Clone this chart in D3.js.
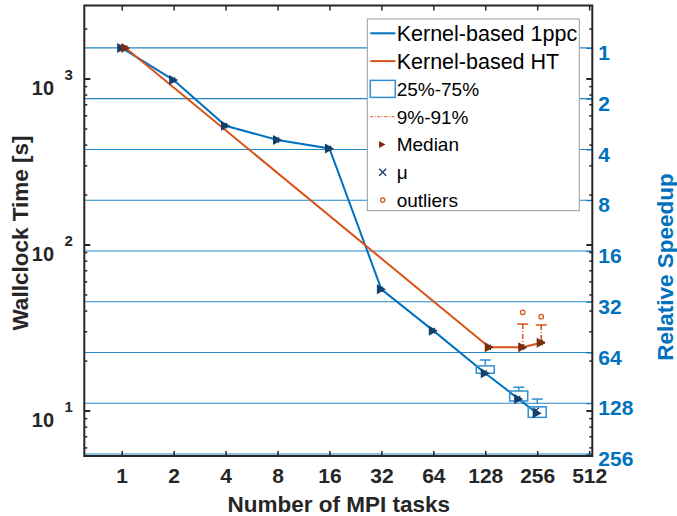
<!DOCTYPE html>
<html>
<head>
<meta charset="utf-8">
<script src="https://cdn.jsdelivr.net/npm/d3@7"></script>
<style>
  body { margin: 0; background: #fff; }
  svg { display: block; font-family: "Liberation Sans", Arial, sans-serif; }
</style>
</head>
<body>
<div id="chart"></div>
<script>
/*
  Strong scaling: wallclock time vs number of MPI tasks
*/

// Kernel-based 1ppc
var tasks1ppc = [1, 2, 4, 8, 16, 32, 64, 128, 200, 256];
var median1ppc = [1538, 986, 523, 429, 382, 54.1, 30.5, 16.9, 11.8, 9.7];
var mean1ppc = [1538, 986, 523, 429, 382, 54.1, 30.5, 17.0, 11.9, 10.1];
var boxTasks1ppc = [128, 200, 256];
var q25_1ppc = [16.9, 11.5, 9.16];
var q75_1ppc = [18.7, 13.2, 10.6];
var p09_1ppc = [16.8, 11.4, 9.1];
var p91_1ppc = [20.3, 13.9, 11.8];

// Kernel-based HT
var tasksHT = [1, 128, 200, 256];
var medianHT = [1538, 24.2, 24.2, 25.8];
var meanHT = [1538, 24.2, 24.3, 25.9];
var boxTasksHT = [200, 256];
var q25HT = [24.0, 25.6];
var q75HT = [24.4, 26.0];
var p09HT = [24.0, 25.6];
var p91HT = [33.4, 33.0];
var outlierTasksHT = [200, 256];
var outlierHT = [39.3, 37.0];

// axes
var xTicks = [1, 2, 4, 8, 16, 32, 64, 128, 256, 512];
var yTicks = [10, 100, 1000];
var speedupTicks = [1, 2, 4, 8, 16, 32, 64, 128, 256];

var legendLabels = ["Kernel-based 1ppc", "Kernel-based HT", "25%-75%", "9%-91%", "Median", "\u03bc", "outliers"];

var blue = "#0072BD", orange = "#D95319", ink = "#262626",
    darkBlue = "#123f6b", darkBrown = "#7a2c0c";

var margin = {top: 5.5, right: 84.7, bottom: 60, left: 84.3};
var width = 677 - margin.left - margin.right,
    height = 516 - margin.top - margin.bottom;

var svg = d3.select("#chart").append("svg")
    .attr("width", 677)
    .attr("height", 516)
  .append("g")
    .attr("transform", "translate(" + margin.left + "," + margin.top + ")");

var x = d3.scaleLog().base(2).domain([0.607, 534]).range([0, width]);
var y = d3.scaleLog().domain([5.36, 2772]).range([height, 0]);
var ySpeed = d3.scaleLog().base(2).domain([0.56, 263]).range([0, height]);

var dodgeHT = 4; // px shift of the HT series

//Gridlines from the speedup axis
svg.selectAll(".grid")
  .data(speedupTicks)
  .enter().append("line")
  .attr("class", "grid")
  .attr("x1", 0).attr("x2", width)
  .attr("y1", function(d){ return ySpeed(d); })
  .attr("y2", function(d){ return ySpeed(d); })
  .style("stroke", blue)
  .style("stroke-width", 1.2)
  .style("opacity", 0.85);

//Lines
var line1ppc = d3.line()
  .x(function(d, i){ return x(tasks1ppc[i]); })
  .y(function(d){ return y(d); });
var lineHT = d3.line()
  .x(function(d, i){ return x(tasksHT[i]) + dodgeHT; })
  .y(function(d){ return y(d); });

svg.append("path")
  .datum(median1ppc)
  .attr("d", line1ppc)
  .style("fill", "none")
  .style("stroke", blue)
  .style("stroke-width", 2);

svg.append("path")
  .datum(medianHT)
  .attr("d", lineHT)
  .style("fill", "none")
  .style("stroke", orange)
  .style("stroke-width", 2);

//Box plots
function drawBoxes(bx, q25, q75, p09, p91, color, dx, boxW) {
  var g = svg.append("g");
  bx.forEach(function(t, i){
    var cx = x(t) + dx;
    // whiskers
    g.append("line")
      .attr("x1", cx).attr("x2", cx)
      .attr("y1", y(p91[i])).attr("y2", y(q75[i]))
      .style("stroke", color).style("stroke-width", 1.5)
      .style("stroke-dasharray", "5,2,1,2");
    g.append("line")
      .attr("x1", cx).attr("x2", cx)
      .attr("y1", y(q25[i])).attr("y2", y(p09[i]))
      .style("stroke", color).style("stroke-width", 1.5)
      .style("stroke-dasharray", "5,2,1,2");
    g.append("line")
      .attr("x1", cx - 5.5).attr("x2", cx + 5.5)
      .attr("y1", y(p91[i])).attr("y2", y(p91[i]))
      .style("stroke", color).style("stroke-width", 1.5);
    // box
    g.append("rect")
      .attr("x", cx - boxW / 2)
      .attr("y", y(q75[i]))
      .attr("width", boxW)
      .attr("height", y(q25[i]) - y(q75[i]))
      .style("fill", "none")
      .style("stroke", color)
      .style("stroke-width", 1.5);
  });
}
drawBoxes(boxTasks1ppc, q25_1ppc, q75_1ppc, p09_1ppc, p91_1ppc, "#2f8fd0", 0, 18);
drawBoxes(boxTasksHT, q25HT, q75HT, p09HT, p91HT, orange, dodgeHT, 6);

//Outliers
svg.selectAll(".outlier")
  .data(outlierHT)
  .enter().append("circle")
  .attr("class", "outlier")
  .attr("cx", function(d, i){ return x(outlierTasksHT[i]) + dodgeHT; })
  .attr("cy", function(d){ return y(d); })
  .attr("r", 2.3)
  .style("fill", "none")
  .style("stroke", orange)
  .style("stroke-width", 1.2);

//Mean markers (under the median markers)
var cross = "M-2.6,-2.6L2.6,2.6M-2.6,2.6L2.6,-2.6";
svg.selectAll(".mean1")
  .data(mean1ppc)
  .enter().append("path")
  .attr("class", "mean1")
  .attr("d", cross)
  .attr("transform", function(d, i){ return "translate(" + (x(tasks1ppc[i]) - 1) + "," + y(d) + ")"; })
  .style("stroke", darkBlue)
  .style("stroke-width", 1.2);

svg.selectAll(".meanHT")
  .data(meanHT)
  .enter().append("path")
  .attr("class", "meanHT")
  .attr("d", cross)
  .attr("transform", function(d, i){ return "translate(" + (x(tasksHT[i]) + dodgeHT - 1) + "," + y(d) + ")"; })
  .style("stroke", darkBlue)
  .style("stroke-width", 1.2);

//Median markers
var triangle = "M-4.5,-5L4.5,0L-4.5,5Z";
svg.selectAll(".med1")
  .data(median1ppc)
  .enter().append("path")
  .attr("class", "med1")
  .attr("d", triangle)
  .attr("transform", function(d, i){ return "translate(" + x(tasks1ppc[i]) + "," + y(d) + ")"; })
  .style("fill", darkBlue);

svg.selectAll(".medHT")
  .data(medianHT)
  .enter().append("path")
  .attr("class", "medHT")
  .attr("d", triangle)
  .attr("transform", function(d, i){ return "translate(" + (x(tasksHT[i]) + dodgeHT) + "," + y(d) + ")"; })
  .style("fill", darkBrown);

//Legend
var lg = svg.append("g")
  .attr("transform", "translate(" + (367.3 - margin.left) + "," + (19 - margin.top) + ")");
lg.append("rect")
  .attr("width", 212).attr("height", 191.7)
  .style("fill", "#fff")
  .style("stroke", "#9a9a9a")
  .style("stroke-width", 1);

var rowY = function(i){ return 14.3 + i * 27.8; };
lg.selectAll(".lgtext")
  .data(legendLabels)
  .enter().append("text")
  .attr("x", 29.4)
  .attr("y", function(d, i){ return rowY(i); })
  .attr("dy", "0.36em")
  .style("font-size", function(d, i){ return i < 2 ? "21.5px" : "19px"; })
  .style("fill", "#000")
  .text(function(d){ return d; });

lg.append("line").attr("x1", 3).attr("x2", 28).attr("y1", rowY(0)).attr("y2", rowY(0))
  .style("stroke", blue).style("stroke-width", 2);
lg.append("line").attr("x1", 3).attr("x2", 28).attr("y1", rowY(1)).attr("y2", rowY(1))
  .style("stroke", orange).style("stroke-width", 2);
lg.append("rect").attr("x", 3).attr("y", rowY(2) - 8.5).attr("width", 25).attr("height", 17)
  .style("fill", "none").style("stroke", "#2f8fd0").style("stroke-width", 1.5);
lg.append("line").attr("x1", 3).attr("x2", 28).attr("y1", rowY(3)).attr("y2", rowY(3))
  .style("stroke", orange).style("stroke-width", 1).style("stroke-dasharray", "3,1.5,1,1.5");
lg.append("path").attr("d", triangle)
  .attr("transform", "translate(15," + rowY(4) + ") scale(0.7)")
  .style("fill", darkBrown);
lg.append("path").attr("d", "M-3.5,-3.5L3.5,3.5M-3.5,3.5L3.5,-3.5")
  .attr("transform", "translate(15.4," + rowY(5) + ")")
  .style("stroke", darkBlue).style("stroke-width", 1.3);
lg.append("circle").attr("cx", 15.4).attr("cy", rowY(6)).attr("r", 2.2)
  .style("fill", "none").style("stroke", orange).style("stroke-width", 1.2);

//X axis (bottom and mirrored top)
var xAxis = svg.append("g")
  .attr("transform", "translate(0," + height + ")")
  .call(d3.axisBottom(x).tickValues(xTicks).tickFormat(d3.format("d"))
    .tickSizeInner(-5).tickSizeOuter(0).tickPadding(12));
xAxis.select(".domain").remove();
xAxis.selectAll("line").style("stroke", ink).style("stroke-width", 1.5);
xAxis.selectAll("text")
  .style("font-size", "21px").style("font-weight", "bold").style("fill", ink);

svg.append("g")
  .call(d3.axisTop(x).tickValues(xTicks).tickFormat("").tickSizeInner(-5).tickSizeOuter(0))
  .call(function(g){ g.select(".domain").remove(); })
  .selectAll("line").style("stroke", ink).style("stroke-width", 1.5);

//Left axis ticks (major + minor, mirrored on the right edge)
var minor = [];
[1, 10, 100, 1000].forEach(function(p){
  for (var m = 2; m <= 9; m++) {
    var v = p * m;
    if (v >= y.domain()[0] && v <= y.domain()[1]) minor.push(v);
  }
});
[0, width].forEach(function(edge){
  var dir = edge === 0 ? 1 : -1;
  svg.selectAll(null).data(minor).enter().append("line")
    .attr("x1", edge).attr("x2", edge + dir * 3)
    .attr("y1", function(d){ return y(d); })
    .attr("y2", function(d){ return y(d); })
    .style("stroke", ink).style("stroke-width", 1.5);
  svg.selectAll(null).data(yTicks).enter().append("line")
    .attr("x1", edge).attr("x2", edge + dir * 6)
    .attr("y1", function(d){ return y(d); })
    .attr("y2", function(d){ return y(d); })
    .style("stroke", ink).style("stroke-width", 2);
});

var yLab = svg.selectAll(".ylab").data(yTicks).enter().append("g")
  .attr("class", "ylab")
  .attr("transform", function(d){ return "translate(0," + y(d) + ")"; });
yLab.append("text")
  .attr("x", 54 - margin.left)
  .attr("y", 16)
  .style("text-anchor", "end")
  .style("font-size", "20px").style("font-weight", "bold").style("fill", ink)
  .text("10");
yLab.append("text")
  .attr("x", 64.5 - margin.left)
  .attr("y", 1)
  .style("font-size", "15px").style("font-weight", "bold").style("fill", ink)
  .text(function(d){ return Math.round(Math.log10(d)); });

//Right axis: relative speedup
var rAxis = svg.append("g")
  .attr("transform", "translate(" + width + ",0)")
  .call(d3.axisRight(ySpeed).tickValues(speedupTicks).tickFormat(d3.format("d"))
    .tickSizeInner(-6).tickSizeOuter(0).tickPadding(6));
rAxis.select(".domain").remove();
rAxis.selectAll("line").style("stroke", blue);
rAxis.selectAll("text")
  .attr("dy", "0.55em")
  .style("font-size", "21px").style("font-weight", "bold").style("fill", blue);

//Frame
svg.append("rect")
  .attr("width", width).attr("height", height)
  .style("fill", "none")
  .style("stroke", ink)
  .style("stroke-width", 2);

//Axis labels
svg.append("text")
  .attr("transform", "translate(" + (width / 2 + 0.4) + "," + (height + 56.3) + ")")
  .style("text-anchor", "middle")
  .style("font-size", "22.5px").style("font-weight", "bold").style("fill", ink)
  .text("Number of MPI tasks");

svg.append("text")
  .attr("transform", "translate(" + (28 - margin.left) + "," + (233 - margin.top) + ") rotate(-90)")
  .style("text-anchor", "middle")
  .style("font-size", "22.5px").style("font-weight", "bold").style("fill", ink)
  .text("Wallclock Time [s]");

svg.append("text")
  .attr("transform", "translate(" + (673 - margin.left) + "," + (267 - margin.top) + ") rotate(-90)")
  .style("text-anchor", "middle")
  .style("font-size", "22.5px").style("font-weight", "bold").style("fill", blue)
  .text("Relative Speedup");
</script>
</body>
</html>
